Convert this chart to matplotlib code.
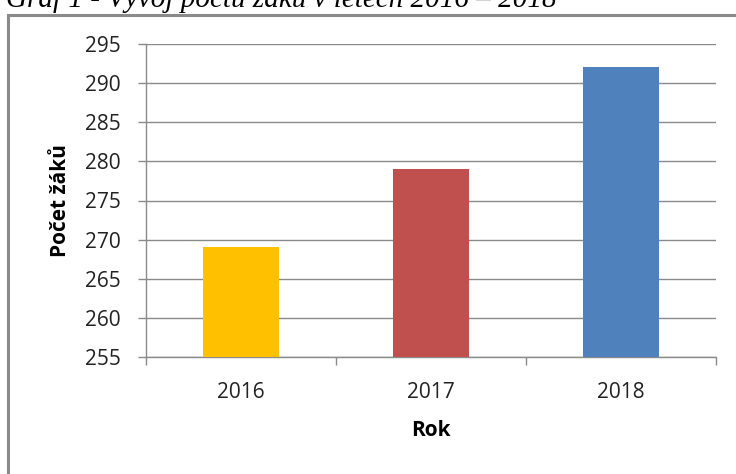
import matplotlib.pyplot as plt
from matplotlib.patches import Rectangle

# data
roky = ['2016', '2017', '2018']
pocet_zaku = [269, 279, 292]
barvy = ['#FFC000', '#C0504D', '#4F81BD']
y_ticks = [255, 260, 265, 270, 275, 280, 285, 290, 295]

plt.rcParams['font.family'] = ['Open Sans', 'DejaVu Sans']

fig = plt.figure(figsize=(7.36, 4.74), dpi=100)

# ramecek grafu (presahuje za okraj obrazku)
fig.patches.append(Rectangle((8 / 736, -0.05), 1.1, 1 - 14.5 / 474 + 0.05,
                             transform=fig.transFigure, fill=False,
                             edgecolor='#8a8a8a', linewidth=2.2))

# nadpis, nahore oriznuty
fig.text(6 / 736, 1 - 7 / 474, 'Graf 1 - Vývoj počtu žáků v letech 2016 – 2018',
         family='Liberation Serif', style='italic', fontsize=21,
         ha='left', va='baseline')

ax = fig.add_axes([146 / 736, 1 - 357 / 474, 570 / 736, 313 / 474])
x = range(len(roky))
ax.bar(x, [v - y_ticks[0] for v in pocet_zaku], bottom=y_ticks[0],
       width=0.4, color=barvy, zorder=3)

ax.set_xlim(-0.5, 2.5)
ax.set_ylim(y_ticks[0], y_ticks[-1])
ax.set_yticks(y_ticks)
ax.set_xticks(list(x))
ax.set_xticklabels(roky)
ax.set_xticks([-0.5, 0.5, 1.5, 2.5], minor=True)

ax.tick_params(axis='y', length=6, width=1, color='#8a8a8a', pad=12,
               labelsize=15, labelcolor='#222222')
ax.tick_params(axis='x', which='major', length=0, pad=18,
               labelsize=15, labelcolor='#222222')
ax.tick_params(axis='x', which='minor', length=6, width=1, color='#8a8a8a')

ax.grid(axis='y', color='#8a8a8a', linewidth=1, zorder=0)
for s in ['top', 'right']:
    ax.spines[s].set_visible(False)
for s in ['left', 'bottom']:
    ax.spines[s].set_color('#8a8a8a')
    ax.spines[s].set_linewidth(1)

ax.set_ylabel('Počet žáků', fontsize=15, fontweight='bold', labelpad=10)
ax.set_xlabel('Rok', fontsize=15, fontweight='bold', labelpad=12)

fig.savefig('out.png', dpi=100)
